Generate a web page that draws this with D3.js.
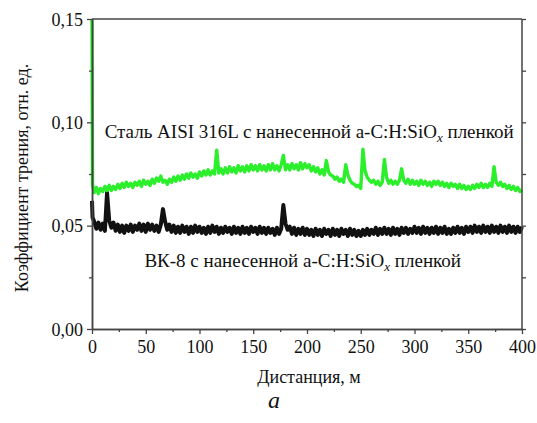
<!DOCTYPE html>
<html>
<head>
<meta charset="utf-8">
<script src="https://cdn.jsdelivr.net/npm/d3@7"></script>
<style>
  body { margin: 0; background: #fff; }
</style>
</head>
<body>
<div id="chart"></div>
<script>
// Distance, m
const distance = [0, 0.5,
  2, 4, 6, 8, 10, 12, 14, 16, 18, 20,
  22, 24, 26, 28, 30, 32, 34, 36, 38, 40,
  42, 44, 46, 48, 50, 52, 54, 56, 58, 60,
  62, 64, 66, 68, 70, 72, 74, 76, 78, 80,
  82, 84, 86, 88, 90, 92, 94, 96, 98, 100,
  102, 104, 106, 108, 110, 112, 114, 116, 118, 120,
  122, 124, 126, 128, 130, 132, 134, 136, 138, 140,
  142, 144, 146, 148, 150, 152, 154, 156, 158, 160,
  162, 164, 166, 168, 170, 172, 174, 176, 178, 180,
  182, 184, 186, 188, 190, 192, 194, 196, 198, 200,
  202, 204, 206, 208, 210, 212, 214, 216, 218, 220,
  222, 224, 226, 228, 230, 232, 234, 236, 238, 240,
  242, 244, 246, 248, 250, 252, 254, 256, 258, 260,
  262, 264, 266, 268, 270, 272, 274, 276, 278, 280,
  282, 284, 286, 288, 290, 292, 294, 296, 298, 300,
  302, 304, 306, 308, 310, 312, 314, 316, 318, 320,
  322, 324, 326, 328, 330, 332, 334, 336, 338, 340,
  342, 344, 346, 348, 350, 352, 354, 356, 358, 360,
  362, 364, 366, 368, 370, 372, 374, 376, 378, 380,
  382, 384, 386, 388, 390, 392, 394, 396, 398, 400];

// Steel AISI 316L + a-C:H:SiOx film
const steelFriction = [0.150, 0.070,
  0.0660, 0.0685, 0.0655, 0.0680, 0.0665, 0.0690, 0.0670, 0.0695, 0.0670, 0.0690,
  0.0675, 0.0700, 0.0680, 0.0705, 0.0685, 0.0710, 0.0690, 0.0705, 0.0685, 0.0710,
  0.0695, 0.0715, 0.0690, 0.0720, 0.0700, 0.0715, 0.0695, 0.0725, 0.0705, 0.0730,
  0.0715, 0.0740, 0.0710, 0.0720, 0.0700, 0.0725, 0.0710, 0.0735, 0.0715, 0.0740,
  0.0720, 0.0745, 0.0725, 0.0750, 0.0730, 0.0755, 0.0735, 0.0750, 0.0730, 0.0760,
  0.0740, 0.0765, 0.0745, 0.0770, 0.0745, 0.0765, 0.0750, 0.0865, 0.0755, 0.0775,
  0.0750, 0.0780, 0.0755, 0.0785, 0.0760, 0.0780, 0.0755, 0.0790, 0.0765, 0.0785,
  0.0760, 0.0790, 0.0765, 0.0795, 0.0770, 0.0790, 0.0765, 0.0795, 0.0770, 0.0790,
  0.0765, 0.0795, 0.0770, 0.0800, 0.0770, 0.0790, 0.0765, 0.0795, 0.0840, 0.0770,
  0.0795, 0.0770, 0.0800, 0.0775, 0.0795, 0.0770, 0.0805, 0.0775, 0.0800, 0.0780,
  0.0795, 0.0765, 0.0785, 0.0760, 0.0780, 0.0750, 0.0770, 0.0745, 0.0815, 0.0760,
  0.0745, 0.0740, 0.0725, 0.0735, 0.0715, 0.0725, 0.0710, 0.0795, 0.0745, 0.0720,
  0.0705, 0.0700, 0.0690, 0.0695, 0.0680, 0.0870, 0.0765, 0.0735, 0.0720, 0.0710,
  0.0720, 0.0700, 0.0715, 0.0695, 0.0710, 0.0820, 0.0735, 0.0705, 0.0720, 0.0700,
  0.0715, 0.0700, 0.0720, 0.0775, 0.0720, 0.0705, 0.0725, 0.0700, 0.0720, 0.0700,
  0.0715, 0.0695, 0.0720, 0.0700, 0.0715, 0.0695, 0.0710, 0.0690, 0.0715, 0.0700,
  0.0715, 0.0695, 0.0710, 0.0690, 0.0705, 0.0685, 0.0705, 0.0690, 0.0700, 0.0680,
  0.0700, 0.0680, 0.0695, 0.0675, 0.0690, 0.0675, 0.0695, 0.0680, 0.0700, 0.0685,
  0.0705, 0.0685, 0.0700, 0.0685, 0.0705, 0.0690, 0.0785, 0.0710, 0.0695, 0.0710,
  0.0690, 0.0700, 0.0680, 0.0695, 0.0675, 0.0690, 0.0670, 0.0685, 0.0665, 0.0675];

// VK-8 + a-C:H:SiOx film
const vk8Friction = [0.062, 0.054,
  0.0520, 0.0485, 0.0515, 0.0480, 0.0510, 0.0475, 0.0660, 0.0525, 0.0490, 0.0515,
  0.0475, 0.0505, 0.0470, 0.0500, 0.0465, 0.0500, 0.0475, 0.0505, 0.0470, 0.0500,
  0.0480, 0.0510, 0.0475, 0.0505, 0.0470, 0.0510, 0.0480, 0.0505, 0.0475, 0.0500,
  0.0470, 0.0505, 0.0580, 0.0520, 0.0480, 0.0505, 0.0470, 0.0500, 0.0465, 0.0495,
  0.0465, 0.0500, 0.0470, 0.0495, 0.0460, 0.0495, 0.0465, 0.0500, 0.0470, 0.0495,
  0.0465, 0.0490, 0.0460, 0.0495, 0.0465, 0.0500, 0.0470, 0.0495, 0.0460, 0.0490,
  0.0465, 0.0495, 0.0470, 0.0490, 0.0460, 0.0495, 0.0465, 0.0490, 0.0460, 0.0495,
  0.0465, 0.0490, 0.0460, 0.0495, 0.0470, 0.0490, 0.0460, 0.0495, 0.0465, 0.0490,
  0.0460, 0.0490, 0.0465, 0.0485, 0.0455, 0.0490, 0.0460, 0.0485, 0.0600, 0.0510,
  0.0480, 0.0495, 0.0460, 0.0490, 0.0455, 0.0485, 0.0460, 0.0490, 0.0455, 0.0485,
  0.0455, 0.0480, 0.0450, 0.0485, 0.0455, 0.0480, 0.0450, 0.0485, 0.0460, 0.0480,
  0.0450, 0.0485, 0.0455, 0.0480, 0.0450, 0.0485, 0.0460, 0.0480, 0.0450, 0.0485,
  0.0455, 0.0480, 0.0450, 0.0475, 0.0450, 0.0480, 0.0455, 0.0485, 0.0455, 0.0480,
  0.0460, 0.0490, 0.0455, 0.0485, 0.0460, 0.0490, 0.0460, 0.0485, 0.0455, 0.0490,
  0.0460, 0.0485, 0.0455, 0.0490, 0.0465, 0.0490, 0.0460, 0.0485, 0.0465, 0.0495,
  0.0465, 0.0490, 0.0460, 0.0495, 0.0465, 0.0490, 0.0460, 0.0490, 0.0465, 0.0495,
  0.0460, 0.0490, 0.0465, 0.0495, 0.0460, 0.0485, 0.0460, 0.0490, 0.0465, 0.0495,
  0.0465, 0.0490, 0.0460, 0.0495, 0.0470, 0.0495, 0.0465, 0.0500, 0.0470, 0.0495,
  0.0465, 0.0500, 0.0470, 0.0495, 0.0465, 0.0500, 0.0470, 0.0495, 0.0465, 0.0500,
  0.0470, 0.0495, 0.0465, 0.0500, 0.0470, 0.0495, 0.0465, 0.0495, 0.0470, 0.0495];

// Tick values
const xMajorTicks = [0, 50, 100, 150, 200, 250, 300, 350, 400];
const xMinorTicks = [25, 75, 125, 175, 225, 275, 325, 375];
const yMajorTicks = [0, 0.05, 0.10, 0.15];
const yMinorTicks = [0.025, 0.075, 0.125];

const serif = "'Liberation Serif'";

// Set up dimensions
const margin = {top: 19, right: 15, bottom: 94, left: 92};
const width = 537 - margin.left - margin.right;
const height = 423 - margin.top - margin.bottom;

const svgRoot = d3.select("#chart")
    .append("svg")
    .attr("width", 537)
    .attr("height", 423);

const svg = svgRoot.append("g")
    .attr("transform", `translate(${margin.left},${margin.top})`);

// Scales
const x = d3.scaleLinear().domain([0, 400]).range([0, width]);
const y = d3.scaleLinear().domain([0, 0.15]).range([height, 0]);

// Lines
const line = d3.line()
    .x(d => x(d[0]))
    .y(d => y(d[1]));

svg.append("path")
    .datum(distance.map((d, i) => [d, vk8Friction[i]]))
    .attr("fill", "none")
    .attr("stroke", "#111")
    .attr("stroke-width", 4)
    .attr("stroke-linejoin", "round")
    .attr("d", line);

svg.append("path")
    .datum(distance.map((d, i) => [d, steelFriction[i]]))
    .attr("fill", "none")
    .attr("stroke", "#2bef2b")
    .attr("stroke-width", 3.4)
    .attr("stroke-linejoin", "round")
    .attr("d", line);

// Frame (top and right)
svg.append("line").attr("x1", 0).attr("x2", width).attr("y1", 0).attr("y2", 0)
    .attr("stroke", "#444").attr("stroke-width", 1.5);
svg.append("line").attr("x1", width).attr("x2", width).attr("y1", 0).attr("y2", height)
    .attr("stroke", "#444").attr("stroke-width", 1.5);

const fmt = d => d3.format(".2f")(d).replace(".", ",");

// Axes
function styleAxis(g) {
    g.attr("font-family", serif).attr("font-size", 18);
    g.selectAll(".domain").attr("stroke", "#444").attr("stroke-width", 1.5);
    g.selectAll(".tick line").attr("stroke", "#444").attr("stroke-width", 1.3);
    g.selectAll(".tick text").attr("fill", "#111");
}

svg.append("g")
    .attr("transform", `translate(0,${height})`)
    .call(d3.axisBottom(x).tickValues(xMinorTicks).tickSize(3).tickSizeOuter(0).tickFormat(""))
    .call(styleAxis);

svg.append("g")
    .attr("transform", `translate(0,${height})`)
    .call(d3.axisBottom(x).tickValues(xMajorTicks).tickSize(5).tickSizeOuter(0).tickPadding(6))
    .call(styleAxis);

svg.append("g")
    .call(d3.axisLeft(y).tickValues(yMinorTicks).tickSize(3).tickSizeOuter(0).tickFormat(""))
    .call(styleAxis);

svg.append("g")
    .call(d3.axisLeft(y).tickValues(yMajorTicks).tickSize(5).tickSizeOuter(0).tickPadding(4).tickFormat(fmt))
    .call(styleAxis)
    .selectAll(".tick text").attr("dy", "0.35em");

// Right side inner ticks
svg.append("g")
    .attr("transform", `translate(${width},0)`)
    .call(d3.axisLeft(y).tickValues(yMajorTicks.concat(yMinorTicks)).tickSize(-4).tickSizeOuter(0).tickFormat(""))
    .call(g => g.select(".domain").remove())
    .call(styleAxis);

// Axis titles
svgRoot.append("text")
    .attr("x", margin.left + x(200) + 2)
    .attr("y", 383)
    .attr("text-anchor", "middle")
    .attr("font-size", 18)
    .attr("fill", "#111")
    .attr("font-family", serif)
    .text("Дистанция, м");

svgRoot.append("text")
    .attr("transform", "translate(28,178) rotate(-90)")
    .attr("text-anchor", "middle")
    .attr("font-size", 18)
    .attr("fill", "#111")
    .attr("font-family", serif)
    .text("Коэффициент трения, отн. ед.");

svgRoot.append("text")
    .attr("x", 274)
    .attr("y", 408)
    .attr("text-anchor", "middle")
    .attr("font-size", 24)
    .attr("font-style", "italic")
    .attr("fill", "#111")
    .attr("font-family", serif)
    .text("a");

// Series labels
function seriesLabel(cx, cy, prefix) {
    const t = svg.append("text")
        .attr("x", x(cx))
        .attr("y", y(cy))
        .attr("text-anchor", "middle")
        .attr("font-size", 19)
        .attr("fill", "#111")
        .attr("font-family", serif);
    t.append("tspan").text(prefix + " с нанесенной a-C:H:SiO");
    t.append("tspan").attr("font-style", "italic").attr("font-size", 13).attr("dy", 4).text("x");
    t.append("tspan").attr("dy", -4).text(" пленкой");
}

seriesLabel(202, 0.0925, "Сталь AISI 316L");
seriesLabel(196, 0.030, "ВК-8");
</script>
</body>
</html>
